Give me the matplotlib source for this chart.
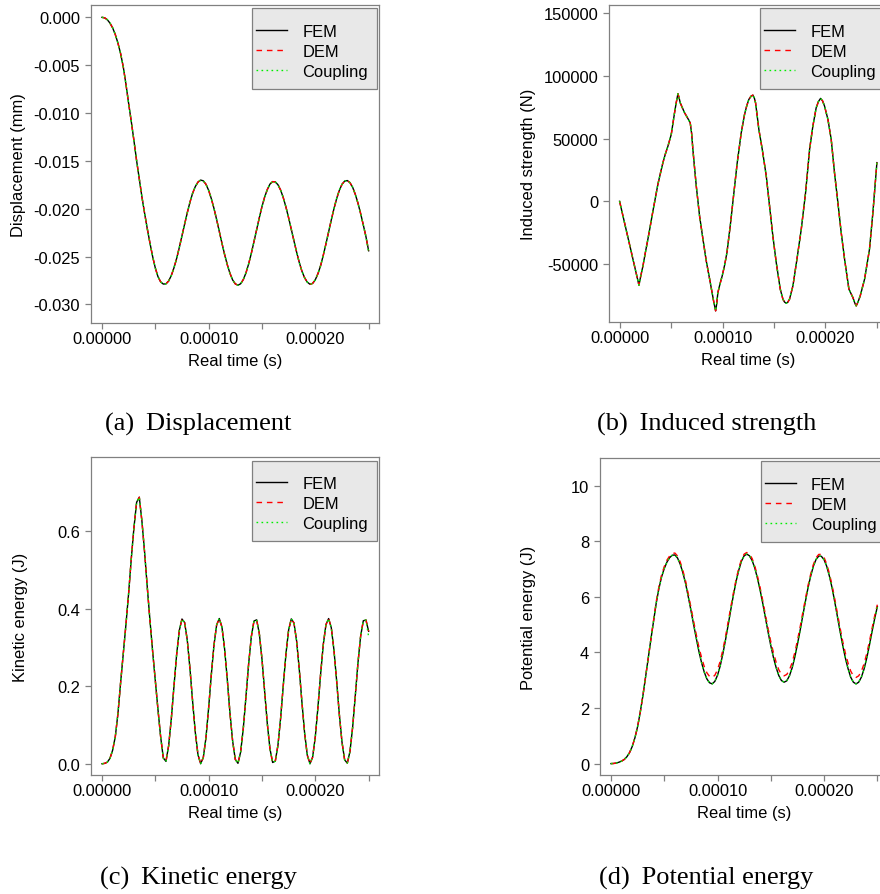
import matplotlib.pyplot as plt
from matplotlib.lines import Line2D
from matplotlib.patches import Rectangle
import numpy as np

plt.rcParams['font.family'] = ['Liberation Sans', 'DejaVu Sans']
plt.rcParams['axes.unicode_minus'] = False

W, H = 880, 895  # output size in pixels (dpi 100)

series = ['FEM', 'DEM', 'Coupling']

# time in microseconds, panels a, c, d sampled every 2.5 us
t_us = np.arange(0, 250.1, 2.5)

# (a) displacement, in 1e-3 mm
disp_fem = [
    0.0, -0.05, -0.25, -0.6, -1.1, -1.8, -2.7, -3.8, -5.2, -7.0,
    -9.0, -10.9, -12.9, -15.0, -16.9, -18.8, -20.5, -22.1, -23.6, -25.0,
    -26.2, -27.1, -27.65, -27.88, -27.86, -27.56, -26.99, -26.18, -25.21, -24.06,
    -22.84, -21.61, -20.42, -19.32, -18.38, -17.69, -17.22, -17.01, -17.09, -17.45,
    -18.08, -18.94, -19.97, -21.14, -22.38, -23.62, -24.80, -25.86, -26.76, -27.45,
    -27.86, -28.00, -27.85, -27.41, -26.71, -25.78, -24.68, -23.45, -22.20, -20.95,
    -19.79, -18.79, -18.00, -17.43, -17.17, -17.20, -17.50, -18.06, -18.86, -19.84,
    -20.96, -22.16, -23.37, -24.55, -25.63, -26.55, -27.23, -27.68, -27.90, -27.81,
    -27.43, -26.79, -25.95, -24.86, -23.67, -22.42, -21.17, -20.00, -18.95, -18.09,
    -17.46, -17.12, -17.06, -17.28, -17.76, -18.50, -19.42, -20.51, -21.70, -22.93,
    -24.40]
disp_dem = disp_fem
disp_cpl = disp_fem[:-1] + [-24.55]

# (b) induced strength, in kN, read at irregular times (us)
t_b = [
    0, 2.5, 5, 7.5, 10, 12.5, 15, 17.5, 18.8, 20.5,
    22.7, 25, 27.5, 30, 32.4, 35, 37.2, 40, 42.1, 44.5,
    47, 50.2, 52, 53.4, 55, 56.7, 57.8, 58.9, 61, 63.1,
    66, 68.6, 70, 71.2, 72.8, 74.5, 77.7, 81, 84.2, 88.1,
    91.3, 93.3, 94.3, 95.5, 97.5, 99.7, 102, 104.3, 107.5, 110.7,
    114.3, 118.2, 121.4, 123.5, 125.6, 127.8, 129.5, 131, 132.1, 133.7,
    135.3, 138.6, 142.5, 145.7, 148.9, 152.2, 156.1, 158.7, 160.3, 161.9,
    163.5, 165.1, 168.4, 172.3, 176.5, 180.7, 184.6, 187.8, 191, 193.2,
    195.3, 197.2, 199.1, 202.4, 205.6, 208.8, 212.1, 215.3, 218.6, 222.8,
    226.7, 228.5, 229.9, 231.5, 233.8, 238, 242.8, 246.1, 250]
force_fem = [
    0.0, -8.9, -17.8, -26.7, -35.5, -44.4, -53.3, -62.2, -66.8, -59.8,
    -51.5, -41.0, -30.2, -18.8, -7.7, 3.8, 13.5, 23.5, 30.8, 37.8,
    44.0, 53.3, 63.0, 70.6, 78.5, 85.7, 82.5, 78.5, 74.5, 70.6,
    66.5, 62.6, 54.0, 41.4, 27.0, 12.2, -11.7, -30.2, -47.5, -64.7,
    -79.3, -87.3, -82.0, -72.7, -66.0, -59.4, -51.0, -40.9, -19.6, 4.2,
    30.8, 54.7, 69.2, 76.0, 81.2, 83.8, 84.6, 82.0, 78.5, 68.0,
    57.3, 41.4, 20.2, -3.7, -27.6, -48.8, -70.0, -78.0, -80.3, -81.2,
    -80.3, -78.0, -67.4, -46.2, -22.3, 6.9, 41.4, 60.0, 74.5, 79.5,
    82.0, 80.0, 75.9, 65.3, 49.3, 22.8, -1.1, -24.9, -46.2, -70.0,
    -76.7, -81.0, -83.3, -80.5, -75.3, -62.1, -38.2, -9.0, 30.8]
force_dem = force_fem
force_cpl = force_fem

# (c) kinetic energy, J
ke_fem = [
    0.0, 0.001, 0.004, 0.014, 0.035, 0.07, 0.13, 0.21, 0.285, 0.36,
    0.44, 0.53, 0.61, 0.675, 0.688, 0.625, 0.545, 0.455, 0.37, 0.29,
    0.215, 0.14, 0.07, 0.015, 0.0062, 0.0463, 0.1158, 0.2001, 0.2818, 0.3441,
    0.3736, 0.3645, 0.3186, 0.2453, 0.1605, 0.0810, 0.0235, 0.0002, 0.0160, 0.0674,
    0.1441, 0.2294, 0.3062, 0.3583, 0.3749, 0.3525, 0.2956, 0.2170, 0.1308, 0.0585,
    0.0111, 0.0012, 0.0301, 0.0916, 0.1732, 0.2577, 0.3276, 0.3684, 0.3715, 0.3365,
    0.2705, 0.1869, 0.1038, 0.0383, 0.0033, 0.0069, 0.0481, 0.1182, 0.2028, 0.2842,
    0.3456, 0.3739, 0.3635, 0.3165, 0.2427, 0.1577, 0.0788, 0.0221, 0.0001, 0.0171,
    0.0696, 0.1466, 0.2320, 0.3082, 0.3593, 0.3748, 0.3510, 0.2932, 0.2141, 0.1282,
    0.0565, 0.0102, 0.0016, 0.0316, 0.0941, 0.1760, 0.2603, 0.3294, 0.3691, 0.3710,
    0.342]
ke_dem = ke_fem
ke_cpl = ke_fem[:-1] + [0.328]

# (d) potential energy, J
pe_fem = [
    0.0, 0.005, 0.02, 0.05, 0.09, 0.15, 0.25, 0.40, 0.62, 0.93,
    1.33, 1.85, 2.45, 3.12, 3.80, 4.48, 5.13, 5.78, 6.30, 6.72,
    7.02, 7.25, 7.41, 7.50, 7.51, 7.40, 7.18, 6.87, 6.49, 6.02,
    5.53, 5.02, 4.53, 4.05, 3.64, 3.30, 3.05, 2.91, 2.87, 2.96,
    3.18, 3.51, 3.95, 4.45, 4.99, 5.55, 6.08, 6.57, 6.97, 7.29,
    7.48, 7.54, 7.48, 7.31, 7.04, 6.67, 6.24, 5.76, 5.24, 4.73,
    4.25, 3.82, 3.46, 3.17, 2.99, 2.93, 2.98, 3.16, 3.44, 3.83,
    4.29, 4.79, 5.32, 5.84, 6.34, 6.76, 7.11, 7.35, 7.47, 7.46,
    7.34, 7.10, 6.75, 6.33, 5.83, 5.30, 4.77, 4.26, 3.80, 3.42,
    3.11, 2.93, 2.87, 2.93, 3.11, 3.40, 3.79, 4.25, 4.75, 5.22,
    5.65]
pe_dem = [
    0.0, 0.005, 0.02, 0.05, 0.09, 0.15, 0.25, 0.40, 0.62, 0.93,
    1.33, 1.85, 2.45, 3.12, 3.80, 4.48, 5.16, 5.83, 6.37, 6.79,
    7.09, 7.32, 7.47, 7.56, 7.58, 7.47, 7.26, 6.95, 6.58, 6.12,
    5.64, 5.14, 4.66, 4.20, 3.82, 3.50, 3.27, 3.14, 3.10, 3.18,
    3.38, 3.68, 4.09, 4.57, 5.10, 5.64, 6.16, 6.64, 7.04, 7.35,
    7.54, 7.60, 7.54, 7.38, 7.11, 6.75, 6.33, 5.86, 5.35, 4.85,
    4.39, 3.99, 3.65, 3.38, 3.21, 3.16, 3.21, 3.37, 3.63, 3.99,
    4.43, 4.91, 5.43, 5.93, 6.42, 6.83, 7.17, 7.41, 7.53, 7.53,
    7.42, 7.18, 6.84, 6.42, 5.93, 5.41, 4.89, 4.40, 3.97, 3.62,
    3.33, 3.16, 3.10, 3.16, 3.32, 3.59, 3.95, 4.38, 4.86, 5.32,
    5.72]
pe_cpl = pe_fem

xticks = [0, 5e-5, 1e-4, 1.5e-4, 2e-4, 2.5e-4]
xticklabels = ['0.00000', '', '0.00010', '', '0.00020', '']

disp_ticks = [0, -0.005, -0.010, -0.015, -0.020, -0.025, -0.030]
disp_labels = ['0.000', '-0.005', '-0.010', '-0.015', '-0.020', '-0.025', '-0.030']
force_ticks = [-50000, 0, 50000, 100000, 150000]
force_labels = ['-50000', '0', '50000', '100000', '150000']
ke_ticks = [0.0, 0.2, 0.4, 0.6]
ke_labels = ['0.0', '0.2', '0.4', '0.6']
pe_ticks = [0, 2, 4, 6, 8, 10]
pe_labels = ['0', '2', '4', '6', '8', '10']

FS = 11.9
GRAY = '#808080'
GREEN = '#00ee00'

fig = plt.figure(figsize=(W / 100, H / 100), dpi=100)


def fx(px):
    return px / W


def fy(py):
    return 1 - py / H


def draw_legend(right, top):
    fig.add_artist(Rectangle((fx(right - 127), fy(top + 84)), 125 / W, 80.7 / H,
                             transform=fig.transFigure, facecolor='#e8e8e8',
                             edgecolor=GRAY, lw=0.9))
    styles = [dict(color='black'), dict(color='red', dashes=(4, 3.5)),
              dict(color=GREEN, dashes=(1.2, 2.4))]
    for k, (name, st) in enumerate(zip(series, styles)):
        yy = top + 25 + 19.85 * k
        fig.add_artist(Line2D([fx(right - 123.3), fx(right - 92)], [fy(yy), fy(yy)],
                              transform=fig.transFigure, lw=1.0, **st))
        fig.text(fx(right - 77), fy(yy + 5.9), name, fontsize=FS, va='baseline', ha='left')


def panel(box, t, fem, dem, cpl, ylim, yt, ytl, ylabel, ylab_x, caption, cap_x, cap_dy,
          scale=1.0):
    left, top, right, bottom = box
    ax = fig.add_axes([fx(left), fy(bottom), (right - left) / W, (bottom - top) / H])
    ts = np.asarray(t) * 1e-6
    ax.plot(ts, np.asarray(fem) * scale, color='black', lw=1.0)
    ax.plot(ts, np.asarray(dem) * scale, color='red', lw=1.0, dashes=(4, 3.5))
    ax.plot(ts, np.asarray(cpl) * scale, color=GREEN, lw=1.0, dashes=(1.2, 2.4))
    ax.set_xlim(-1e-5, 2.6e-4)
    ax.set_ylim(*ylim)
    ax.set_xticks(xticks)
    ax.set_xticklabels(xticklabels)
    ax.set_yticks(yt)
    ax.set_yticklabels(ytl)
    for sp in ax.spines.values():
        sp.set_color(GRAY)
        sp.set_linewidth(0.9)
    ax.tick_params(direction='out', length=4.3, width=0.9, color=GRAY,
                   labelsize=FS, labelcolor='black')
    ax.tick_params(axis='x', pad=1.2)
    ax.tick_params(axis='y', pad=3.8)
    cy = (top + bottom) / 2
    fig.text(fx(ylab_x), fy(cy), ylabel, rotation=90, fontsize=FS, ha='center', va='center')
    fig.text(fx((left + right) / 2), fy(bottom + 37.7), 'Real time (s)', fontsize=FS,
             ha='center', va='center')
    fig.text(fx(cap_x), fy(bottom + cap_dy), caption, fontsize=19, ha='center', va='center',
             family=['Liberation Serif', 'DejaVu Serif'])
    draw_legend(right, top)
    return ax


panel((91.3, 6, 379.3, 324), t_us, disp_fem, disp_dem, disp_cpl, (-0.03195, 0.00129),
      disp_ticks, disp_labels, 'Displacement (mm)', 19,
      '(a) \u2009Displacement', 198.2, 100.7, scale=1e-3)
panel((609.3, 6, 887.2, 323.3), t_b, force_fem, force_dem, force_cpl, (-96400, 156400),
      force_ticks, force_labels, 'Induced strength (N)', 528.3,
      '(b) \u2009Induced strength', 706.7, 101.4, scale=1e3)
panel((91.3, 458.3, 379.3, 776), t_us, ke_fem, ke_dem, ke_cpl, (-0.029, 0.791),
      ke_ticks, ke_labels, 'Kinetic energy (J)', 20,
      '(c) \u2009Kinetic energy', 198, 102.3)
panel((600.3, 459, 888, 776), t_us, pe_fem, pe_dem, pe_cpl, (-0.41, 11.0),
      pe_ticks, pe_labels, 'Potential energy (J)', 528.3,
      '(d) \u2009Potential energy', 706.3, 102.3)

fig.savefig('out.png', dpi=100)
